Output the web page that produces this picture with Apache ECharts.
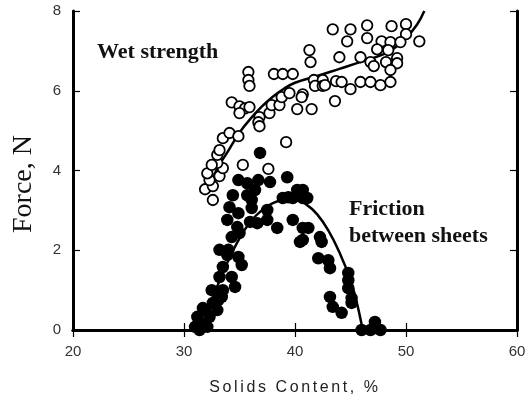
<!DOCTYPE html>
<html>
<head>
<meta charset="utf-8">
<script src="https://cdn.jsdelivr.net/npm/echarts@6/dist/echarts.min.js"></script>
<style>
  html, body { margin: 0; padding: 0; background: #fff; }
  #chart { width: 525px; height: 396px; }
</style>
</head>
<body>
<div id="chart"></div>
<script>
// Axis ranges
const xRange = [20, 60];
const xStep = 10;
const yRange = [0, 8];
const yStep = 2;

// Wet strength measurements [solids %, force N]
const wetStrength = [
  [32.6,3.26],[31.9,3.53],[32.6,3.61],[32.3,3.76],[33.2,3.86],[32.1,3.93],[33.5,4.06],[33.0,4.19],
  [32.5,4.14],[33.0,4.39],[33.2,4.51],[33.5,4.81],[34.1,4.94],[34.9,4.86],[34.3,5.71],[35.0,5.61],
  [35.5,5.56],[35.0,5.44],[35.9,5.59],[36.8,5.34],[36.7,5.21],[36.8,5.11],[37.7,5.44],[37.9,5.64],
  [38.6,5.64],[38.8,5.84],[39.5,5.94],[40.7,5.91],[40.2,5.54],[41.5,5.54],[35.3,4.14],[37.6,4.04],
  [39.2,4.71],[35.8,6.47],[35.8,6.27],[35.9,6.12],[38.1,6.42],[38.9,6.42],[39.8,6.42],[41.3,7.02],
  [41.4,6.72],[41.7,6.27],[42.5,6.27],[41.8,6.12],[42.5,6.12],[40.6,5.84],
  [43.4,7.54],[45.0,7.54],[46.5,7.64],[48.7,7.62],[50.0,7.67],[50.0,7.42],[44.7,7.24],[46.5,7.32],
  [47.8,7.24],[48.6,7.22],[49.5,7.22],[51.2,7.24],[47.4,7.04],[48.4,7.02],[44.0,6.84],[45.9,6.84],
  [46.8,6.72],[47.1,6.62],[48.2,6.72],[49.2,6.82],[49.2,6.69],[48.6,6.52],[42.7,6.14],[43.7,6.24],
  [44.2,6.22],[45.0,6.04],[45.9,6.22],[46.8,6.22],[47.7,6.14],[48.6,6.22],[43.6,5.74]
];

// Friction between sheets measurements [solids %, force N]
const friction = [
  [36.85,4.44],[39.3,3.83],[36.7,3.76],[34.9,3.76],[37.75,3.71],[35.7,3.68],[36.4,3.51],[34.4,3.38],
  [35.7,3.38],[36.1,3.26],[36.1,3.06],[34.1,3.08],[34.9,2.93],[33.9,2.76],[34.8,2.58],[34.3,2.33],
  [35.0,2.43],[34.0,2.01],[33.2,2.01],[33.9,1.88],[34.9,1.83],[35.2,1.63],[33.5,1.58],[33.2,1.33],
  [34.3,1.33],[34.6,1.08],[32.5,1.0],[33.5,1.0],[33.4,0.83],[33.1,0.75],[32.6,0.68],[31.7,0.55],
  [33.0,0.5],[31.9,0.5],[31.2,0.33],[32.3,0.33],[31.4,0.18],[32.1,0.08],[31.0,0.08],[31.4,0.0],
  [37.5,3.01],[37.5,2.76],[36.6,2.68],[35.95,2.71],[38.4,2.56],[39.4,3.33],[40.2,3.51],[40.45,3.43],
  [40.7,3.31],[39.8,3.31],[38.9,3.31],[41.1,3.31],[40.7,3.51],[39.8,2.76],[40.7,2.56],[40.45,2.21],
  [41.2,2.56],[40.7,2.26],[42.25,2.33],[42.4,2.21],[42.1,1.8],[43.0,1.75],[43.15,1.55],[44.8,1.43],
  [44.8,1.25],[44.8,1.05],[45.1,0.8],[45.1,0.68],[43.15,0.83],[43.4,0.58],[44.2,0.43],[46.0,0.0],
  [46.8,0.0],[47.2,0.2],[47.7,0.0],[47.2,0.05]
];

// Fitted trend curves
const wetFit = [
  [32.2,3.55],[33,4.05],[34,4.5],[35,4.95],[36,5.3],[37,5.6],[38,5.85],[39,6.05],[40,6.2],
  [42,6.37],[44,6.55],[46,6.73],[48,6.92],[49,7.08],[50,7.32],[51,7.66],[51.65,8.0]
];
const frictionFit = [
  [31.5,0],[32,0.4],[33,1.1],[34,1.75],[35,2.3],[36,2.72],[37,3.0],[38,3.18],[39,3.26],
  [40,3.26],[41,3.15],[42,2.9],[43,2.5],[44,1.95],[45,1.25],[45.6,0.65],[46.1,0]
];

const xTitle = 'Solids Content, %';
const yTitle = 'Force, N';
const wetLabel = 'Wet strength';
const frictionLabel = 'Friction\nbetween sheets';

// Spaced-out lettering for the x-axis title only
const spacedText = { [xTitle]: '2.6px' };
const baseFillText = CanvasRenderingContext2D.prototype.fillText;
CanvasRenderingContext2D.prototype.fillText = function (t, x, y, w) {
  const ls = spacedText[t];
  if (ls && 'letterSpacing' in this) {
    this.save();
    this.letterSpacing = ls;
    if (w === undefined) baseFillText.call(this, t, x, y); else baseFillText.call(this, t, x, y, w);
    this.restore();
    return;
  }
  if (w === undefined) baseFillText.call(this, t, x, y); else baseFillText.call(this, t, x, y, w);
};

const chart = echarts.init(document.getElementById('chart'), null, { renderer: 'canvas' });

const frameAxis = {
  type: 'value',
  axisLine: { show: true, lineStyle: { color: '#000', width: 3 } },
  axisTick: { show: true, inside: true, length: 7, lineStyle: { color: '#000', width: 1.2 } },
  splitLine: { show: false }
};

chart.setOption({
  animation: false,
  backgroundColor: '#fff',
  grid: { left: 73, right: 8, top: 11, bottom: 66, containLabel: false, outerBoundsMode: 'none' },
  xAxis: [
    Object.assign({}, frameAxis, {
      min: xRange[0], max: xRange[1], interval: xStep, position: 'bottom',
      axisLabel: { color: '#333', fontSize: 15, fontFamily: 'Liberation Sans, Arial, sans-serif', margin: 14 },
      name: xTitle, nameLocation: 'middle', nameGap: 50,
      nameTextStyle: { color: '#222', fontSize: 16, fontFamily: 'Liberation Sans, Arial, sans-serif' }
    }),
    Object.assign({}, frameAxis, {
      min: xRange[0], max: xRange[1], interval: xStep, position: 'top',
      axisLabel: { show: false }
    })
  ],
  yAxis: [
    Object.assign({}, frameAxis, {
      min: yRange[0], max: yRange[1], interval: yStep, position: 'left',
      axisLabel: { color: '#333', fontSize: 15, fontFamily: 'Liberation Sans, Arial, sans-serif', margin: 12 }
    }),
    Object.assign({}, frameAxis, {
      min: yRange[0], max: yRange[1], interval: yStep, position: 'right',
      axisLabel: { show: false }
    })
  ],
  series: [
    {
      type: 'line', data: wetFit, xAxisIndex: 0, yAxisIndex: 0,
      smooth: 0.4, showSymbol: false, symbol: 'none',
      lineStyle: { color: '#000', width: 2.5 }, z: 2
    },
    {
      type: 'line', data: frictionFit, xAxisIndex: 0, yAxisIndex: 0,
      smooth: 0.4, showSymbol: false, symbol: 'none',
      lineStyle: { color: '#000', width: 2.5 }, z: 2
    },
    {
      type: 'scatter', data: friction, symbol: 'circle', symbolSize: 12.5,
      itemStyle: { color: '#000', borderColor: '#000', borderWidth: 0, opacity: 1 }, z: 3
    },
    {
      type: 'scatter', data: wetStrength, symbol: 'circle', symbolSize: 10.5,
      itemStyle: { color: '#fff', borderColor: '#000', borderWidth: 1.8, opacity: 1 }, z: 4
    }
  ],
  graphic: [
    {
      type: 'text', x: 24, y: 184, rotation: Math.PI / 2, z: 10,
      style: {
        text: yTitle, fontSize: 28, fontFamily: 'Liberation Serif', fill: '#111',
        align: 'center', verticalAlign: 'middle'
      }
    },
    {
      type: 'text', left: 97, top: 41, z: 10,
      style: { text: wetLabel, fontSize: 22, fontWeight: 'bold', fontFamily: 'Liberation Serif', fill: '#111' }
    },
    {
      type: 'text', left: 349, top: 196, z: 10,
      style: { text: frictionLabel, fontSize: 22, fontWeight: 'bold', fontFamily: 'Liberation Serif', fill: '#111', lineHeight: 27 }
    }
  ]
});
</script>
</body>
</html>
